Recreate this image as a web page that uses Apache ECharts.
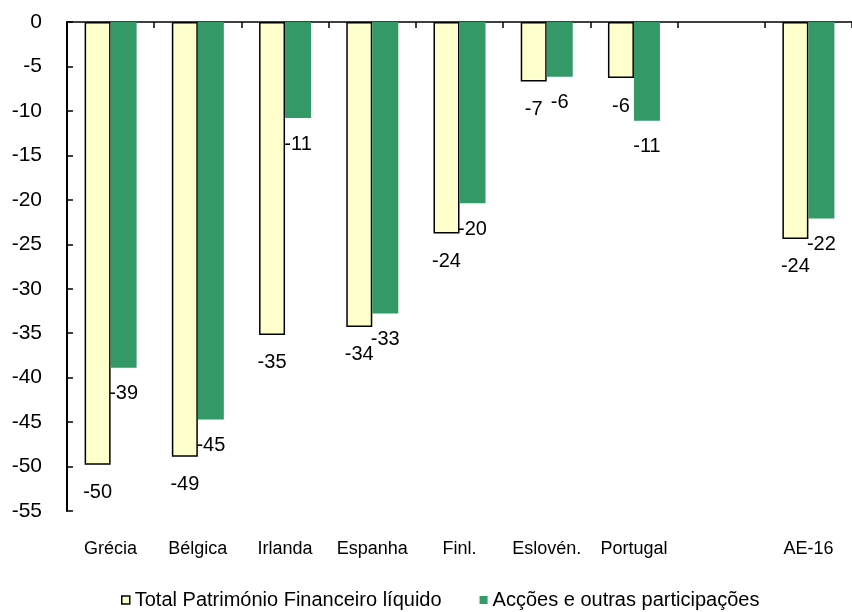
<!DOCTYPE html>
<html>
<head>
<meta charset="utf-8">
<script src="https://cdn.jsdelivr.net/npm/echarts@6/dist/echarts.min.js"></script>
<style>
html,body{margin:0;padding:0;background:#fff;}
#chart{width:852px;height:612px;}
</style>
</head>
<body>
<div id="chart"></div>
<script>
var categories = ['Grécia', 'Bélgica', 'Irlanda', 'Espanha', 'Finl.', 'Eslovén.', 'Portugal', '', 'AE-16'];
var totalValues = [-49.8, -48.9, -35.2, -34.3, -23.8, -6.7, -6.3, null, -24.4];
var accoesValues = [-38.9, -44.7, -10.8, -32.8, -20.4, -6.15, -11.1, null, -22.1];
var seriesNames = ['Total Património Financeiro líquido', 'Acções e outras participações'];
var yTicks = {min: -55, max: 0, interval: 5};

var FONT = '"Liberation Sans", Arial, sans-serif';
var chart = echarts.init(document.getElementById('chart'), null, {renderer: 'canvas'});

function labelCfg(dist) {
  return {
    show: true,
    position: 'outside',
    distance: dist,
    color: '#000',
    fontFamily: FONT,
    fontSize: 20,
    formatter: function (p) { return p.value == null ? '' : String(Math.round(p.value)); }
  };
}

chart.setOption({
  animation: false,
  backgroundColor: '#fff',
  grid: {left: 67, top: 22, width: 791, height: 489, containLabel: false},
  legend: {
    top: 585,
    left: 116,
    itemWidth: 8,
    itemHeight: 8,
    itemGap: 38,
    icon: 'rect',
    textStyle: {fontFamily: FONT, fontSize: 20, color: '#000'},
    data: [
      {name: seriesNames[0], itemStyle: {color: '#FFFFCC', borderColor: '#000', borderWidth: 1.5}},
      {name: seriesNames[1], itemStyle: {color: '#339966'}}
    ]
  },
  xAxis: [
    {
      type: 'category',
      data: categories,
      position: 'top',
      boundaryGap: true,
      axisLine: {show: true, onZero: false, lineStyle: {color: '#000', width: 1.5}},
      axisTick: {show: true, inside: true, length: 6, alignWithLabel: false, lineStyle: {color: '#000', width: 1.5}},
      axisLabel: {show: false},
      splitLine: {show: false}
    },
    {
      type: 'category',
      data: categories,
      position: 'bottom',
      boundaryGap: true,
      axisLine: {show: false, onZero: false},
      axisTick: {show: false},
      axisLabel: {show: true, interval: 0, margin: 29, color: '#000', fontFamily: FONT, fontSize: 18},
      splitLine: {show: false}
    }
  ],
  yAxis: {
    type: 'value',
    min: yTicks.min,
    max: yTicks.max,
    interval: yTicks.interval,
    axisLine: {show: true, lineStyle: {color: '#000', width: 2}},
    axisTick: {show: true, inside: true, length: 6, lineStyle: {color: '#000', width: 1.5}},
    axisLabel: {margin: 25, color: '#000', fontFamily: FONT, fontSize: 21},
    splitLine: {show: false}
  },
  series: [
    {
      name: seriesNames[0],
      type: 'bar',
      xAxisIndex: 0,
      data: totalValues,
      barWidth: 26,
      barGap: '0%',
      itemStyle: {color: '#FFFFCC', borderColor: '#000', borderWidth: 1.5},
      label: labelCfg(18)
    },
    {
      name: seriesNames[1],
      type: 'bar',
      xAxisIndex: 0,
      data: accoesValues,
      barWidth: 26,
      barGap: '0%',
      itemStyle: {color: '#339966'},
      label: labelCfg(16)
    }
  ]
});
</script>
</body>
</html>
